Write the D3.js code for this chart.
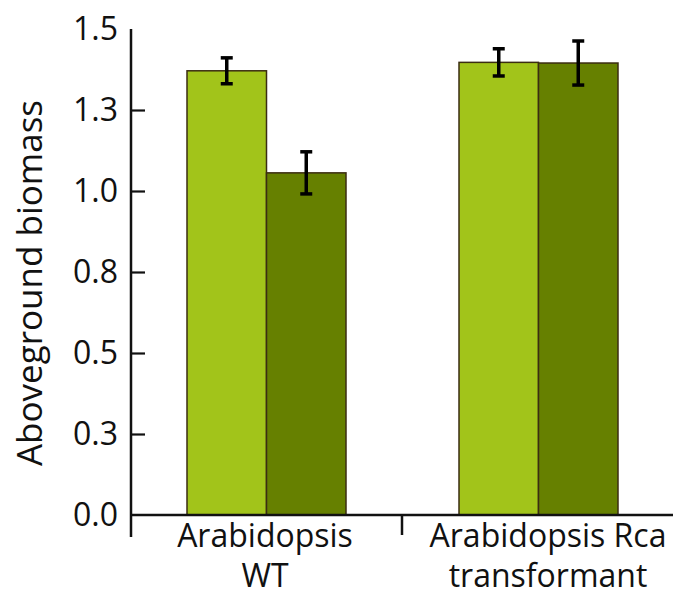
<!DOCTYPE html>
<html><head><meta charset="utf-8">
<script src="https://cdn.jsdelivr.net/npm/d3@7"></script>
<style>body{margin:0;background:#fff}svg{display:block}text{font-family:"Open Sans",sans-serif;fill:#111}</style>
</head><body><svg id="c" width="673" height="593"></svg>
<script>
const groups = ["Arabidopsis WT", "Arabidopsis Rca transformant"];
const groupLines = [["Arabidopsis", "WT"], ["Arabidopsis Rca", "transformant"]];
const series = ["light", "dark"];
const values = [[1.371, 1.056], [1.397, 1.395]];
const errors = [[0.040, 0.065], [0.042, 0.068]];
const yTicks = [0.25, 0.5, 0.75, 1.0, 1.25];
const yTickLabels = ["0.3", "0.5", "0.8", "1.0", "1.3"];
const colors = ["#a2c41a", "#668000"];

const svg = d3.select("#c");
const y = d3.scaleLinear().domain([0, 1.5]).range([515, 29]);
const x = d3.scaleBand().domain(groups).range([130, 674]).padding(0);
const xs = d3.scaleBand().domain(series).range([57, 216]).padding(0);

// bars
groups.forEach((g, gi) => {
  const gg = svg.append("g").attr("transform", `translate(${x(g)},0)`);
  series.forEach((s, si) => {
    gg.append("rect")
      .attr("x", xs(s)).attr("width", xs.bandwidth())
      .attr("y", y(values[gi][si])).attr("height", y(0) - y(values[gi][si]))
      .attr("fill", colors[si]).attr("stroke", "#3b2d12").attr("stroke-width", 1.5);
  });
  series.forEach((s, si) => {
    const cx = xs(s) + xs.bandwidth() / 2;
    const hi = y(values[gi][si] + errors[gi][si]), lo = y(values[gi][si] - errors[gi][si]);
    gg.append("line").attr("x1", cx).attr("x2", cx).attr("y1", hi).attr("y2", lo).attr("stroke", "#000").attr("stroke-width", 3.5);
    [hi, lo].forEach(v => gg.append("line").attr("x1", cx - 6).attr("x2", cx + 6).attr("y1", v).attr("y2", v).attr("stroke", "#000").attr("stroke-width", 3.5));
  });
});

// y axis
const ya = svg.append("g").attr("transform", "translate(131,0)")
  .call(d3.axisLeft(y).tickValues([0, ...yTicks, 1.5]).tickSizeInner(-14).tickSizeOuter(0).tickPadding(13)
    .tickFormat((d) => d === 0 ? "0.0" : d === 1.5 ? "1.5" : yTickLabels[yTicks.indexOf(d)]));
ya.select(".domain").remove();
ya.selectAll(".tick line").attr("stroke", "#111").attr("stroke-width", 2.2)
  .filter(d => d === 0 || d === 1.5).remove();
ya.selectAll(".tick text").attr("font-size", 32).attr("font-family", "Open Sans").attr("fill", "#111");
svg.append("line").attr("x1", 131).attr("x2", 131).attr("y1", y(1.5)).attr("y2", 537).attr("stroke", "#111").attr("stroke-width", 2.5);

// x axis
svg.append("line").attr("x1", 130).attr("x2", 673).attr("y1", y(0)).attr("y2", y(0)).attr("stroke", "#111").attr("stroke-width", 2.5);
groups.forEach((g, gi) => {
  if (gi > 0) svg.append("line").attr("x1", x(g)).attr("x2", x(g)).attr("y1", y(0)).attr("y2", 535).attr("stroke", "#111").attr("stroke-width", 2.5);
  const cx = x(g) + x.bandwidth() / 2 + (gi === 0 ? -1 : 10);
  groupLines[gi].forEach((t, li) => {
    svg.append("text").attr("x", cx).attr("y", 547 + li * 40).attr("text-anchor", "middle")
      .attr("font-size", 32).text(t);
  });
});

// y label
svg.append("text").attr("transform", `translate(42,${(y(0) + y(1.5)) / 2 + 11}) rotate(-90)`)
  .attr("text-anchor", "middle").attr("font-size", 35).text("Aboveground biomass");
</script></body></html>
